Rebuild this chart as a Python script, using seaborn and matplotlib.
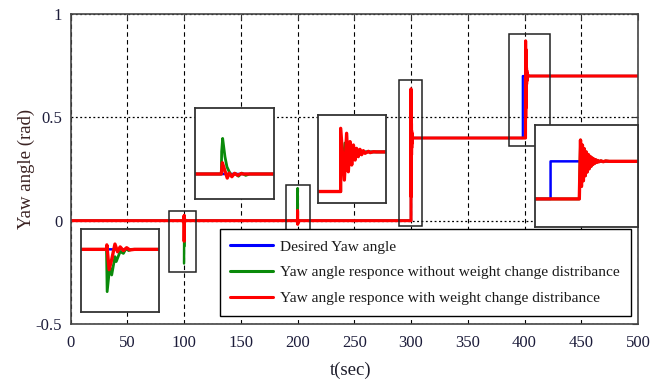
import matplotlib
matplotlib.use("Agg")
import matplotlib.pyplot as plt
from matplotlib.patches import Rectangle
from matplotlib.lines import Line2D
import seaborn as sns

sns.set_theme(style="white")
plt.rcParams["font.family"] = ["Liberation Serif", "DejaVu Serif"]

# ---------------- data ----------------
# desired yaw angle (rad) against time (sec)
desired_t = [0.0, 300.0, 300.0, 398.5, 398.5, 500.0]
desired_y = [0.0, 0.0, 0.4, 0.4, 0.7, 0.7]

# response without weight change disturbance: transients at each event
g100_t = [100.0, 100.02, 100.1, 100.16, 100.26, 100.3, 100.42, 100.52, 100.6, 100.68, 100.76]
g100_y = [0.0, -0.208, -0.085, -0.126, -0.036, -0.06, -0.011, -0.02, 0.004, -0.006, 0.0]
g200_t = [200.0, 200.01, 200.04, 200.11, 200.17, 200.24, 200.32, 200.42, 200.52, 200.62, 200.74, 200.86]
g200_y = [0.0, 0.10, 0.158, 0.077, 0.032, 0.01, -0.009, 0.003, -0.01, 0.004, -0.006, 0.0]
g300_t = [300.0, 300.0, 300.08, 300.15, 300.22, 300.29, 300.36, 300.42, 300.48, 300.54,
          300.6, 300.66, 300.72]
g300_y = [0.0, 0.50, 0.29, 0.49, 0.31, 0.47, 0.34, 0.44, 0.37, 0.42, 0.39, 0.41, 0.40]

# response with weight change disturbance
r100_t = [100.0, 100.01, 100.08, 100.16, 100.26, 100.34, 100.42, 100.52, 100.62, 100.72, 100.86]
r100_y = [0.0, 0.022, -0.10, -0.05, 0.026, -0.012, 0.012, -0.006, 0.008, -0.003, 0.0]
r200_t = [200.0, 200.03, 200.1, 200.18, 200.24, 200.32, 200.4, 200.5, 200.6, 200.66]
r200_y = [0.0, 0.05, 0.018, -0.018, 0.004, -0.012, 0.003, -0.006, 0.002, 0.0]
r300_t = [300.0, 300.0, 300.13, 300.21, 300.27, 300.33, 300.39, 300.45, 300.51, 300.56,
          300.62, 300.68, 300.74, 300.8, 300.86, 300.98, 301.04, 301.16, 301.26]
r300_y = [0.0, 0.638, 0.116, 0.588, 0.20, 0.504, 0.268, 0.47, 0.318, 0.436,
          0.352, 0.426, 0.372, 0.413, 0.386, 0.406, 0.393, 0.402, 0.40]
r400_t = [400.9, 401.0, 401.08, 401.16, 401.24, 401.32, 401.4, 401.48, 401.56, 401.64,
          401.72, 401.8, 401.88, 401.96, 402.04, 402.12, 402.2, 402.28, 402.36, 402.44,
          402.52, 402.7, 402.9, 403.1, 403.4]
r400_y = [0.4, 0.87, 0.50, 0.83, 0.545, 0.80, 0.585, 0.775, 0.615, 0.755,
          0.64, 0.74, 0.66, 0.728, 0.675, 0.718, 0.685, 0.712, 0.692, 0.707,
          0.696, 0.704, 0.697, 0.703, 0.70]

t_end = 500.0
final_y = 0.7

green_t = [0.0] + g100_t + g200_t + g300_t + r400_t + [t_end]
green_y = [0.0] + g100_y + g200_y + g300_y + r400_y + [final_y]
red_t = [0.0] + r100_t + r200_t + r300_t + r400_t + [t_end]
red_y = [0.0] + r100_y + r200_y + r300_y + r400_y + [final_y]

series_labels = ["Desired Yaw angle",
                 "Yaw angle responce without weight change distribance",
                 "Yaw angle responce with weight change distribance"]
x_ticks = [0, 50, 100, 150, 200, 250, 300, 350, 400, 450, 500]
y_ticks = [-0.5, 0, 0.5, 1]
y_tick_labels = ["-0.5", "0", "0.5", "1"]

BLUE, GREEN, RED = "#0000ff", "#0a8a0a", "#ff0000"

# ---------------- figure ----------------
W, H = 664, 379
fig = plt.figure(figsize=(W / 100, H / 100), dpi=100)


def axes_px(x0, y0, x1, y1):
    return fig.add_axes([x0 / W, 1 - y1 / H, (x1 - x0) / W, (y1 - y0) / H])


def draw_series(a, lw_b, lw_g, lw_r):
    sns.lineplot(x=desired_t, y=desired_y, ax=a, color=BLUE, lw=lw_b,
                 sort=False, estimator=None, legend=False, snap=False)
    sns.lineplot(x=green_t, y=green_y, ax=a, color=GREEN, lw=lw_g,
                 sort=False, estimator=None, legend=False, snap=False)
    sns.lineplot(x=red_t, y=red_y, ax=a, color=RED, lw=lw_r,
                 sort=False, estimator=None, legend=False, snap=False)


ax = axes_px(70.5, 14, 638, 324)
draw_series(ax, 1.6, 1.6, 2.2)
ax.set_xlim(0, 500)
ax.set_ylim(-0.5, 1)
ax.set_xticks(x_ticks)
ax.set_xticklabels([str(v) for v in x_ticks])
ax.set_yticks(y_ticks)
ax.set_yticklabels(y_tick_labels)
ax.tick_params(direction="in", length=4, width=0.8, top=True, right=True,
               labelsize=12, labelcolor="#1c1c3a", color="#333333", pad=6)
ax.tick_params(axis="x", pad=8)
for s in ax.spines.values():
    s.set_color("#444444")
    s.set_linewidth(1.2)
ax.set_axisbelow(True)
ax.xaxis.grid(True, linestyle=(0, (4, 3)), color="black", lw=0.8)
ax.yaxis.grid(True, linestyle=(0, (1.5, 2)), color="black", lw=0.9)

ax.set_xlabel("t(sec)", fontsize=13.5, color="#1c1c2a")
ax.xaxis.set_label_coords(0.494, -0.12)
ax.set_ylabel("Yaw angle (rad)", fontsize=13.5, color="#3a2222")
ax.yaxis.set_label_coords(-0.062, 0.5)

# zoom rectangles marking the magnified regions
zoom_boxes = [((87.2, -0.248), 23.4, 0.2965),
              ((189.9, -0.06), 21.1, 0.235),
              ((289.4, -0.024), 20.3, 0.704),
              ((386.3, 0.359), 36.1, 0.544)]
for (x0, y0), w, h in zoom_boxes:
    ax.add_patch(Rectangle((x0, y0), w, h, fill=False, ec="#222222", lw=1.1, zorder=4))

handles = [Line2D([], [], color=c, lw=2.2) for c in (BLUE, GREEN, RED)]
leg = ax.legend(handles, series_labels, loc="lower left",
                bbox_to_anchor=(0.2626, 0.0258, 0.725, 0.284), mode="expand",
                borderaxespad=0, frameon=True, fancybox=False, edgecolor="black",
                framealpha=1, fontsize=11.1, handlelength=2.8, handletextpad=0.45,
                labelspacing=0.78, borderpad=0.7)
leg.get_frame().set_linewidth(1.0)
leg.set_zorder(6)
for txt in leg.get_texts():
    txt.set_color("#1a1a1a")

# magnified views
insets = [((80.5, 229, 158.5, 312), (99.2, 101.6), (-0.308, 0.1)),
          ((195, 108, 274, 199), (199.2, 201.6), (-0.111, 0.293)),
          ((318, 115, 386, 203), (299.2, 301.6), (-0.116, 0.773)),
          ((535, 125, 638, 227), (397.2, 405.8), (0.176, 0.99))]
for (x0, y0, x1, y1), xl, yl in insets:
    ai = axes_px(x0, y0, x1, y1)
    ai.set_facecolor("white")
    draw_series(ai, 1.8, 2.0, 2.4)
    ai.set_xlim(*xl)
    ai.set_ylim(*yl)
    ai.set_xticks([])
    ai.set_yticks([])
    ai.set_xlabel("")
    ai.set_ylabel("")
    for s in ai.spines.values():
        s.set_color("#333333")
        s.set_linewidth(1.3)

fig.savefig("out.png", dpi=100)
